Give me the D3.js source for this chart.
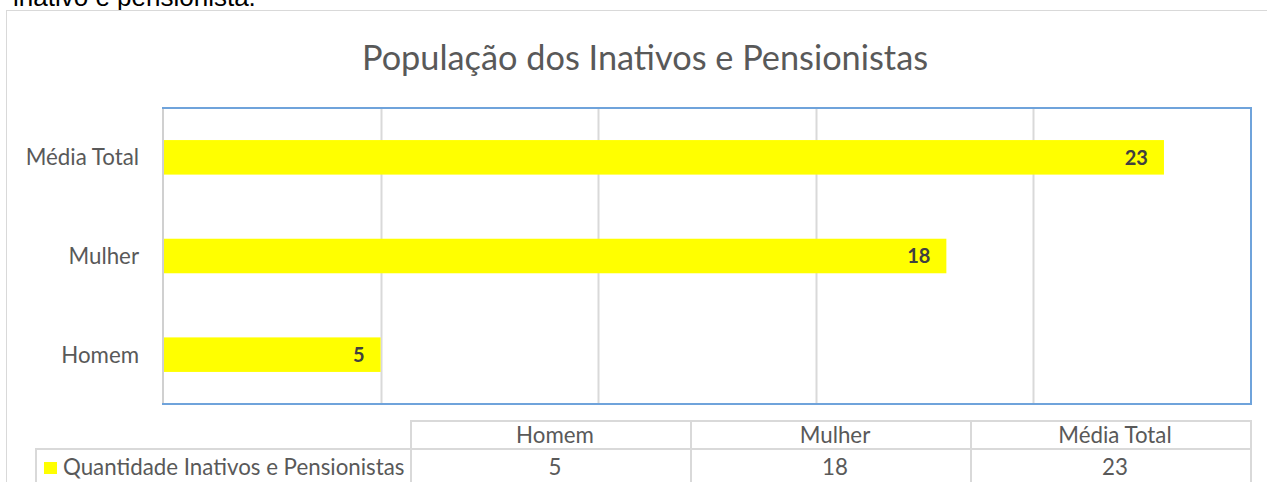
<!DOCTYPE html>
<html>
<head>
<meta charset="utf-8">
<script src="https://cdn.jsdelivr.net/npm/d3@7"></script>
<style>
  body { margin: 0; background: #fff; }
  svg { display: block; }
</style>
</head>
<body>
<div id="chart"></div>
<script>
// chart data
const categories = ["Homem", "Mulher", "Média Total"];
const values = [5, 18, 23];
const seriesName = "Quantidade Inativos e Pensionistas";
const xTicks = [0, 5, 10, 15, 20, 25];
const title = "População dos Inativos e Pensionistas";

const width = 1267;
const height = 482;
const plot = { left: 163, right: 1251, top: 108, bottom: 404 };
const font = "Lato, 'Open Sans', sans-serif";
const grey = "#595959";
const labelSize = 22.3;

const svg = d3.select("#chart")
  .append("svg")
  .attr("width", width)
  .attr("height", height);

// text of the page above the chart, cut by the picture edge
svg.append("text")
  .attr("x", 13)
  .attr("y", 6)
  .attr("font-family", "'Liberation Sans', Arial, sans-serif")
  .attr("font-size", 26)
  .attr("fill", "#000")
  .text("inativo e pensionista.");

// outer chart border
svg.append("rect")
  .attr("x", 6.5)
  .attr("y", 10.5)
  .attr("width", 1300)
  .attr("height", 500)
  .attr("fill", "#fff")
  .attr("stroke", "#d9d9d9");

// title
svg.append("text")
  .attr("x", 645)
  .attr("y", 70)
  .attr("text-anchor", "middle")
  .attr("font-family", font)
  .attr("font-size", 34.3)
  .attr("fill", grey)
  .text(title);

// scales
const xScale = d3.scaleLinear()
  .domain([0, d3.max(xTicks)])
  .range([plot.left, plot.right]);

const yScale = d3.scaleBand()
  .domain(categories.slice().reverse())
  .range([plot.top, plot.bottom])
  .paddingInner(0.65)
  .paddingOuter(0.325);

// gridlines
svg.append("g")
  .selectAll("line")
  .data(xTicks.slice(1, -1))
  .join("line")
  .attr("x1", d => Math.round(xScale(d)) + 0.5)
  .attr("x2", d => Math.round(xScale(d)) + 0.5)
  .attr("y1", plot.top)
  .attr("y2", plot.bottom)
  .attr("stroke", "#d9d9d9")
  .attr("stroke-width", 2);

// bars
const bars = svg.append("g")
  .selectAll("g")
  .data(categories.map((c, i) => ({ cat: c, value: values[i] })))
  .join("g")
  .attr("transform", d => `translate(0,${yScale(d.cat)})`);

bars.append("rect")
  .attr("x", xScale(0))
  .attr("y", 0)
  .attr("width", d => xScale(d.value) - xScale(0))
  .attr("height", yScale.bandwidth())
  .attr("fill", "#ffff00");

bars.append("text")
  .attr("x", d => xScale(d.value) - 16)
  .attr("y", yScale.bandwidth() / 2)
  .attr("dy", "0.36em")
  .attr("text-anchor", "end")
  .attr("font-family", font)
  .attr("font-weight", "bold")
  .attr("font-size", 20)
  .attr("fill", "#404040")
  .text(d => d.value);

// plot area border (blue) and category axis line
svg.append("rect")
  .attr("x", plot.left)
  .attr("y", plot.top)
  .attr("width", plot.right - plot.left)
  .attr("height", plot.bottom - plot.top)
  .attr("fill", "none")
  .attr("stroke", "#6fa3db")
  .attr("stroke-width", 2);

svg.append("line")
  .attr("x1", plot.left)
  .attr("x2", plot.left)
  .attr("y1", plot.top + 1)
  .attr("y2", plot.bottom - 1)
  .attr("stroke", "#d0d0d0")
  .attr("stroke-width", 2);

// category labels
svg.append("g")
  .selectAll("text")
  .data(categories)
  .join("text")
  .attr("x", 139)
  .attr("y", d => yScale(d) + yScale.bandwidth() / 2)
  .attr("dy", "0.36em")
  .attr("text-anchor", "end")
  .attr("font-family", font)
  .attr("font-size", labelSize)
  .attr("fill", grey)
  .text(d => d);

// data table
const table = { left: 36, colLeft: 411, right: 1251, top: 421, mid: 449, bottom: 500 };
const colScale = d3.scaleBand()
  .domain(categories)
  .range([table.colLeft, table.right]);

const tg = svg.append("g")
  .attr("stroke", "#d9d9d9")
  .attr("stroke-width", 2)
  .attr("fill", "none");

tg.append("rect")
  .attr("x", table.colLeft)
  .attr("y", table.top)
  .attr("width", table.right - table.colLeft)
  .attr("height", table.bottom - table.top);

tg.append("rect")
  .attr("x", table.left)
  .attr("y", table.mid)
  .attr("width", table.right - table.left)
  .attr("height", table.bottom - table.mid);

tg.selectAll("line")
  .data(categories.slice(1))
  .join("line")
  .attr("x1", d => colScale(d))
  .attr("x2", d => colScale(d))
  .attr("y1", table.top)
  .attr("y2", table.bottom);

svg.append("g")
  .selectAll("text")
  .data(categories)
  .join("text")
  .attr("x", d => colScale(d) + colScale.bandwidth() / 2 + 4)
  .attr("y", (table.top + table.mid) / 2)
  .attr("dy", "0.36em")
  .attr("text-anchor", "middle")
  .attr("font-family", font)
  .attr("font-size", labelSize)
  .attr("fill", grey)
  .text(d => d);

svg.append("g")
  .selectAll("text")
  .data(values)
  .join("text")
  .attr("x", (d, i) => colScale(categories[i]) + colScale.bandwidth() / 2 + 4)
  .attr("y", 467)
  .attr("dy", "0.36em")
  .attr("text-anchor", "middle")
  .attr("font-family", font)
  .attr("font-size", labelSize)
  .attr("fill", grey)
  .text(d => d);

// legend key inside the table
svg.append("rect")
  .attr("x", 44)
  .attr("y", 462)
  .attr("width", 13)
  .attr("height", 12)
  .attr("fill", "#ffff00");

svg.append("text")
  .attr("x", 63)
  .attr("y", 467)
  .attr("dy", "0.36em")
  .attr("font-family", font)
  .attr("font-size", labelSize)
  .attr("fill", grey)
  .text(seriesName);
</script>
</body>
</html>
